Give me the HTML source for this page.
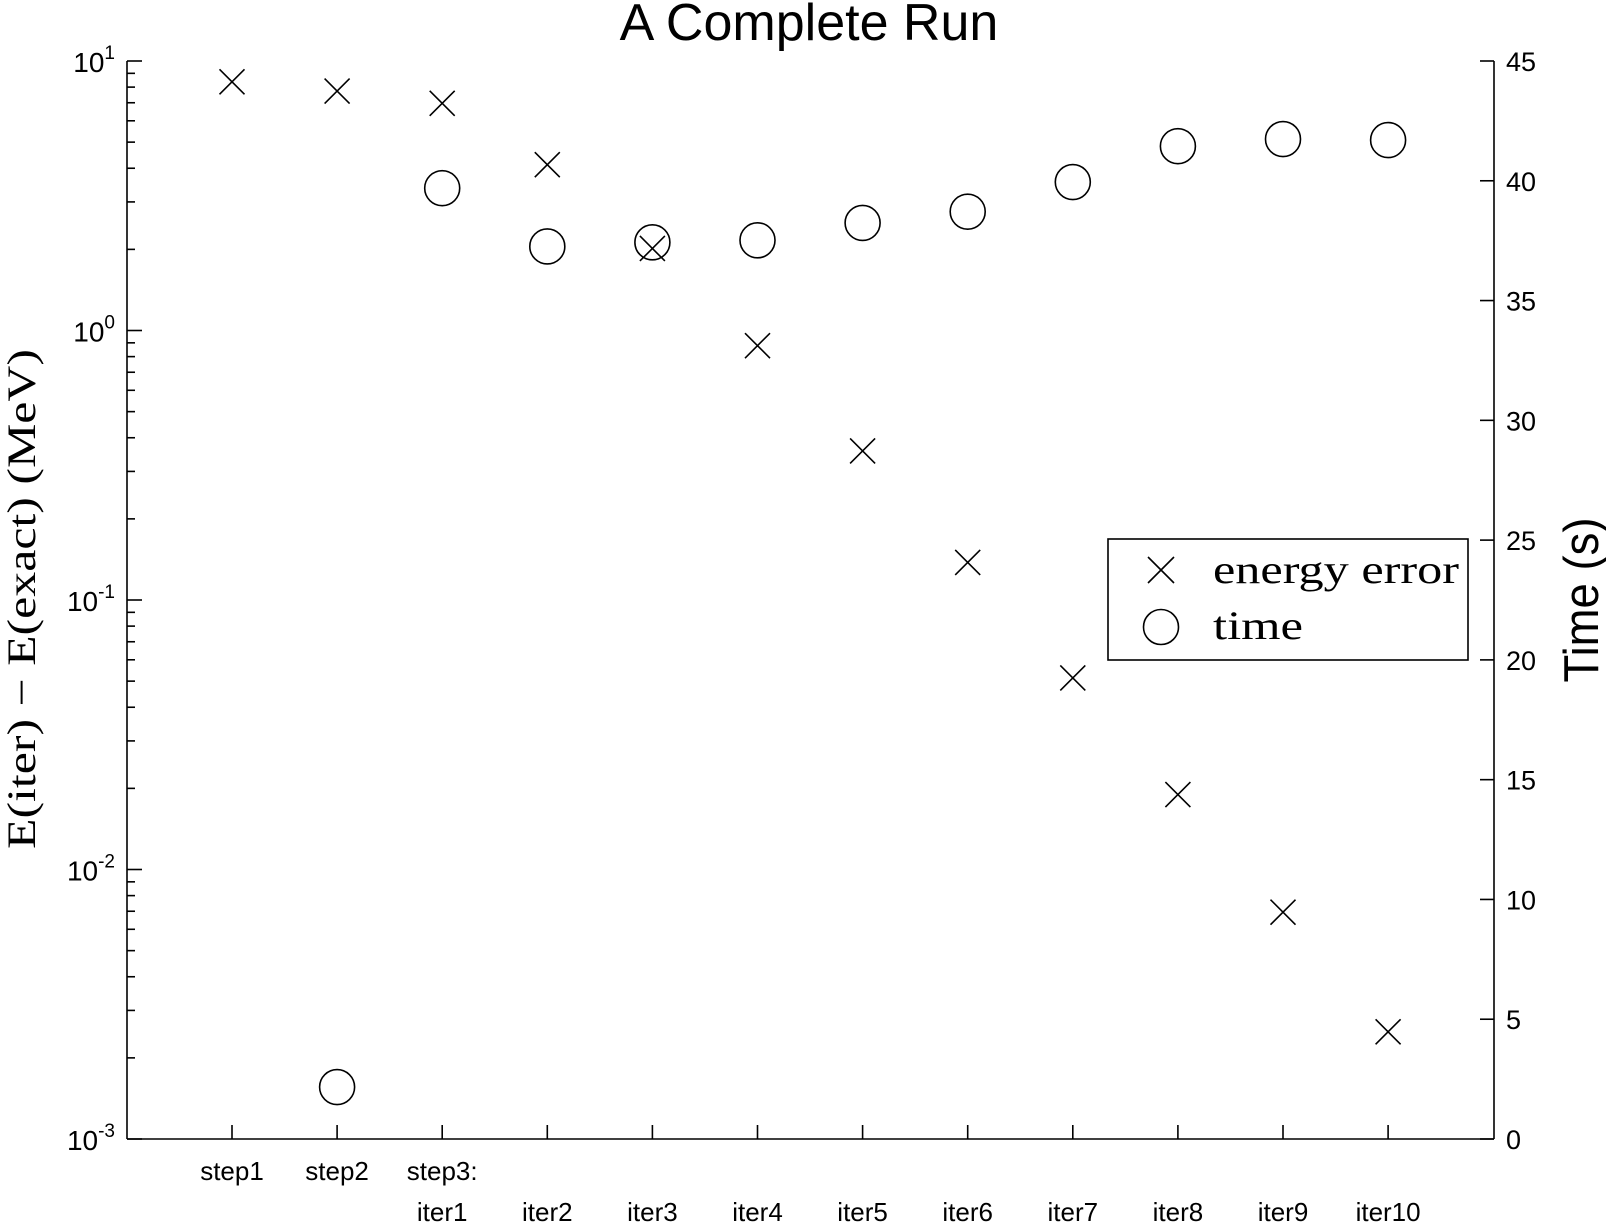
<!DOCTYPE html>
<html><head><meta charset="utf-8"><style>
html,body{margin:0;padding:0;background:#fff;}
svg{display:block;}
</style></head><body>
<svg id="s" width="1606" height="1224" xmlns="http://www.w3.org/2000/svg" font-family="Liberation Sans, sans-serif"></svg>
<script>
const s=document.getElementById('s');
let h='';
const L=127,R=1494,T=61,B=1139,D=(B-T)/4;
h+=`<text x="809" y="40" font-size="52" text-anchor="middle">A Complete Run</text>`;
h+=`<g stroke="#000" stroke-width="1.6" fill="none">`;
h+=`<line x1="${L}" y1="${T}" x2="${L}" y2="${B}"/><line x1="${R}" y1="${T}" x2="${R}" y2="${B}"/><line x1="${L}" y1="${B}" x2="${R}" y2="${B}"/>`;
for(let d=0;d<4;d++){const y0=T+d*D;
 h+=`<line x1="${L}" y1="${y0}" x2="${L+15}" y2="${y0}"/>`;
 for(let k=2;k<10;k++){const y=y0+D*(1-Math.log10(k));h+=`<line x1="${L}" y1="${y}" x2="${L+8}" y2="${y}"/>`;}
}
h+=`<line x1="${L}" y1="${B}" x2="${L+15}" y2="${B}"/>`;
const pu=(B-T)/45;
for(let v=0;v<=45;v+=5){const y=B-v*pu;h+=`<line x1="${R-14}" y1="${y}" x2="${R}" y2="${y}"/>`;}
const xs=[];for(let i=0;i<12;i++){xs.push(232+i*105.1);h+=`<line x1="${xs[i]}" y1="${B}" x2="${xs[i]}" y2="${B-14}"/>`;}
const ex=[80,89,101,161,243,338,441,550,663,777,892,1009];
ex.forEach((y,i)=>{y*=1.0226;const x=xs[i],a=12.5;h+=`<path d="M${x-a} ${y-a}L${x+a} ${y+a}M${x-a} ${y+a}L${x+a} ${y-a}"/>`;});
const ci=[null,1063,184,241,237,235,218,207,178,143,136,137];
ci.forEach((y,i)=>{if(y==null)return;y*=1.0226;h+=`<circle cx="${xs[i]}" cy="${y}" r="17.5"/>`;});
h+=`<rect x="1108" y="539" width="360" height="121"/>`;
h+=`<path d="M1148 557L1174 583M1148 583L1174 557"/><circle cx="1161" cy="627" r="17.5"/>`;
h+=`</g>`;
h+=`<g font-size="26" fill="#000">`;
const exps=['1','0','-1','-2','-3'];
exps.forEach((e,d)=>{const y=T+d*D;h+=`<text x="${L-12}" y="${y+11}" text-anchor="end" font-size="28">10<tspan dy="-13" font-size="19">${e}</tspan></text>`;});
for(let v=0;v<=45;v+=5){const y=B-v*pu;h+=`<text x="${R+12}" y="${y+10}" font-size="27">${v}</text>`;}
const l1=['step1','step2','step3:','','','','','','','','',''];
const l2=['','','iter1','iter2','iter3','iter4','iter5','iter6','iter7','iter8','iter9','iter10'];
xs.forEach((x,i)=>{if(l1[i])h+=`<text x="${x}" y="1180" text-anchor="middle">${l1[i]}</text>`;if(l2[i])h+=`<text x="${x}" y="1221" text-anchor="middle">${l2[i]}</text>`;});
h+=`</g>`;
h+=`<text x="1213" y="583" font-size="40" textLength="246" lengthAdjust="spacingAndGlyphs" font-family="Liberation Serif, serif">energy error</text>`;
h+=`<text x="1213" y="639" font-size="40" textLength="90" lengthAdjust="spacingAndGlyphs" font-family="Liberation Serif, serif">time</text>`;
h+=`<text transform="translate(35,599) rotate(-90)" font-size="40" text-anchor="middle" textLength="500" lengthAdjust="spacingAndGlyphs" font-family="Liberation Serif, serif">E(iter) − E(exact)  (MeV)</text>`;
h+=`<text transform="translate(1598,600) rotate(-90)" font-size="49" text-anchor="middle" textLength="165" lengthAdjust="spacingAndGlyphs">Time (s)</text>`;
s.innerHTML=h;
</script>
</body></html>
